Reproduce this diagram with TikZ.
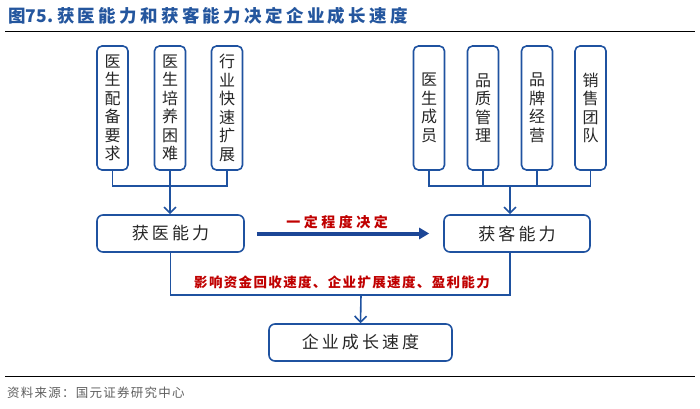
\documentclass[tikz,border=0pt]{standalone}
\usepackage{fontspec}
\setmainfont{Noto Sans CJK SC}
\newfontfamily\titlefont{Noto Sans CJK SC}[LetterSpace=19]
\newfontfamily\boxfont{Noto Sans CJK SC}[LetterSpace=18]
\newfontfamily\notefont{Noto Sans CJK SC}[LetterSpace=25]
\newfontfamily\longfont{Noto Sans CJK SC}[LetterSpace=10]
\newfontfamily\srcfont{Noto Sans CJK SC}[LetterSpace=10]
\usetikzlibrary{arrows.meta,positioning}

\definecolor{boxblue}{RGB}{31,82,160}
\definecolor{titleblue}{RGB}{36,86,158}
\definecolor{arrowblue}{RGB}{28,70,150}
\definecolor{notered}{RGB}{192,0,0}
\definecolor{srcgray}{RGB}{95,95,95}

\tikzset{
  vbox/.style={draw=boxblue, line width=1.6pt, rounded corners=5pt,
    minimum width=31pt, minimum height=124pt, inner sep=0pt, align=center,
    font=\fontsize{16}{18.5}\selectfont, text=black!85},
  hbox/.style={draw=boxblue, line width=1.6pt, rounded corners=6pt,
    minimum height=37pt, inner sep=0pt,
    font=\boxfont\fontsize{17}{17}\selectfont, text=black!85},
  link/.style={draw=boxblue, line width=1.6pt},
  linkarrow/.style={link, -{Straight Barb[length=6pt,width=12pt]}},
  bigarrow/.style={draw=arrowblue, line width=4pt,
    -{Triangle[length=10pt,width=11pt]}},
  note/.style={text=notered, inner sep=0pt}
}

\begin{document}
\begin{tikzpicture}[x=1pt,y=-1pt]
  \useasboundingbox (0,0) rectangle (700,408);
  \node[anchor=west, inner sep=0pt, text=titleblue,
    font=\bfseries\fontsize{17.5}{17.5}\selectfont] (title) at (8,16)
    {图75.\hspace{4pt}{\titlefont\bfseries 获医能力和获客能力决定企业成长速度}};
  \draw[line width=1.5pt] (5,31.5) -- (695,31.5);

  \node[vbox] (l1) at (112.5,108) {医\\生\\配\\备\\要\\求};
  \node[vbox] (l2) at (170,108) {医\\生\\培\\养\\困\\难};
  \node[vbox] (l3) at (227,108) {行\\业\\快\\速\\扩\\展};
  \node[vbox] (r1) at (429,108) {医\\生\\成\\员};
  \node[vbox] (r2) at (483,108) {品\\质\\管\\理};
  \node[vbox] (r3) at (537,108) {品\\牌\\经\\营};
  \node[vbox] (r4) at (590.5,108) {销\\售\\团\\队};

  \node[hbox, minimum width=147pt] (hy) at (170.5,233.5) {获医能力};
  \node[hbox, minimum width=146pt] (hk) at (517,233.5) {获客能力};
  \node[hbox, minimum width=183pt] (qy) at (360.5,342.5) {企业成长速度};

  \coordinate (lj) at (170,186);
  \coordinate (rj) at (510,186);
  \coordinate (bj) at (361,295);

  \draw[link] (l1.south) |- (lj);
  \draw[link] (l3.south) |- (lj);
  \draw[link] (l2.south) -- (lj);
  \draw[linkarrow] (lj) -- (lj |- hy.north);
  \draw[link] (r1.south) |- (rj);
  \draw[link] (r2.south) |- (rj);
  \draw[link] (r3.south) |- (rj);
  \draw[link] (r4.south) |- (rj);
  \draw[linkarrow] (rj) -- (rj |- hk.north);

  \draw[bigarrow, shorten <=12pt, shorten >=14pt] (hy) -- (hk);
  \node[note, font=\notefont\bfseries\fontsize{14}{14}\selectfont] (lbl1) at (337,222) {一定程度决定};

  \draw[link] (hy.south) |- (bj);
  \draw[link] (rj |- hk.south) |- (bj);
  \draw[linkarrow] (bj) -- (qy.north);
  \node[note, font=\longfont\bfseries\fontsize{13.5}{13.5}\selectfont] (lbl2) at (342,282)
    {影响资金回收速度、企业扩展速度、盈利能力};

  \draw[line width=1.5pt] (5,376.5) -- (695,376.5);
  \node[anchor=west, inner sep=0pt, text=srcgray,
    font=\srcfont\fontsize{12.5}{12.5}\selectfont] (src) at (7,393)
    {资料来源：国元证券研究中心};
\end{tikzpicture}
\end{document}
